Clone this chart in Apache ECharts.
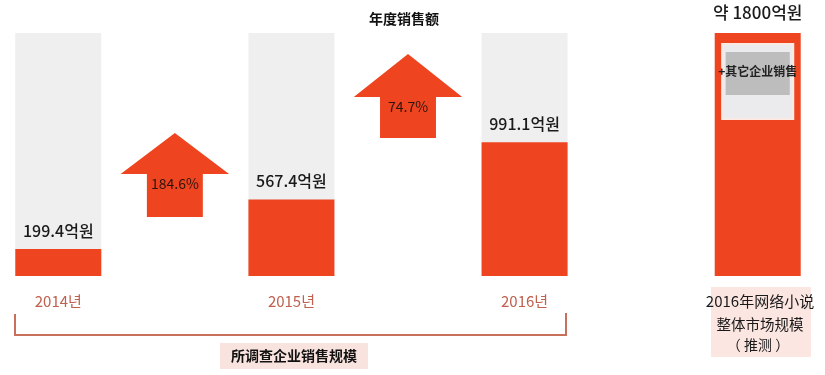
<!DOCTYPE html>
<html>
<head>
<meta charset="utf-8">
<script src="https://cdn.jsdelivr.net/npm/echarts@6/dist/echarts.min.js"></script>
<style>html,body{margin:0;padding:0;background:#fff;}#c{width:825px;height:375px;}</style>
</head>
<body>
<div id="c"></div>
<script>
// ---- data ----
const categories = ['2014년', '', '2015년', '', '2016년', '', ''];
const sales = [199.4, 567.4, 991.1];            // 억원, 2014-2016
const salesLabels = ['199.4억원', '567.4억원', '991.1억원'];
const growthRates = ['184.6%', '74.7%'];
const arrowLevels = [[437, 756, 1059], [1022, 1326, 1644]]; // bottom, head base, tip (axis units)
const marketTotal = 1800;
const marketLabel = '약 1800억원';
const otherLabel = '+其它企业销售';
const otherOuter = [1163, 1718];
const otherInner = [1341, 1659];
const chartTitle = '年度销售额';
const bracketLabel = '所调查企业销售规模';
const marketCaption = ['2016年网络小说', '整体市场规模', '（ 推测 ）'];
const axisMax = 1800;

const ORANGE = '#ee4520';
const GRAY = '#efefef';
const NARROW = '"Liberation Sans Narrow","Noto Sans CJK KR",sans-serif';
const CJK = '"Noto Sans CJK SC","Noto Sans CJK KR",sans-serif';

const barIdx = [0, 2, 4];
const marketIdx = 6;

const bgData = categories.map(() => '-');
const valData = categories.map(() => '-');
barIdx.forEach((ci, i) => {
  bgData[ci] = axisMax;
  valData[ci] = {
    value: sales[i],
    label: { formatter: salesLabels[i] }
  };
});
valData[marketIdx] = {
  value: marketTotal,
  label: { formatter: marketLabel, fontSize: 17, distance: 12 }
};

const arrowData = arrowLevels.map((a, i) => [2 * i + 1, a[0], a[1], a[2], growthRates[i]]);

const chart = echarts.init(document.getElementById('c'));
chart.setOption({
  animation: false,
  grid: { left: 0, right: 9, top: 33, bottom: 99, containLabel: false },
  xAxis: {
    type: 'category',
    data: categories,
    axisLine: { show: false },
    axisTick: { show: false },
    axisLabel: { color: '#c0604f', fontSize: 15, fontFamily: NARROW, margin: 18, interval: 0 }
  },
  yAxis: {
    type: 'value', min: 0, max: axisMax,
    show: false,
    splitLine: { show: false }
  },
  series: [
    {
      type: 'bar', data: bgData, barWidth: 86, barGap: '-100%',
      itemStyle: { color: GRAY }, silent: true
    },
    {
      type: 'bar', data: valData, barWidth: 86, barGap: '-100%',
      itemStyle: { color: ORANGE },
      label: {
        show: true, position: 'top', distance: 10,
        color: '#1a1a1a', fontSize: 16, fontWeight: 500, fontFamily: NARROW
      }
    },
    {
      type: 'custom',
      data: arrowData,
      encode: { x: 0, y: [1, 2, 3] },
      renderItem: function (params, api) {
        const c = api.value(0);
        const x = api.coord([c, 0])[0];
        const yB = api.coord([c, api.value(1)])[1];
        const yH = api.coord([c, api.value(2)])[1];
        const yT = api.coord([c, api.value(3)])[1];
        const band = api.size([1, 0])[0];
        const hw = band * 0.465, sw = band * 0.24;
        return {
          type: 'group',
          children: [
            {
              type: 'polygon',
              shape: { points: [[x, yT], [x + hw, yH], [x + sw, yH], [x + sw, yB], [x - sw, yB], [x - sw, yH], [x - hw, yH]] },
              style: { fill: ORANGE }
            },
            {
              type: 'text',
              x: x, y: yH + 10,
              style: { text: api.value(4), fill: '#2e140c', fontSize: 14, fontFamily: NARROW, align: 'center', verticalAlign: 'middle' }
            }
          ]
        };
      }
    },
    {
      type: 'custom',
      data: [[marketIdx, otherOuter[0], otherOuter[1], otherInner[0], otherInner[1], otherLabel]],
      encode: { x: 0, y: [1, 2, 3, 4] },
      z: 5,
      renderItem: function (params, api) {
        const c = api.value(0);
        const x = api.coord([c, 0])[0];
        const band = api.size([1, 0])[0];
        const o0 = api.coord([c, api.value(1)])[1], o1 = api.coord([c, api.value(2)])[1];
        const i0 = api.coord([c, api.value(3)])[1], i1 = api.coord([c, api.value(4)])[1];
        const ow = band * 0.61, iw = band * 0.55;
        return {
          type: 'group',
          children: [
            { type: 'rect', shape: { x: x - ow / 2, y: o1, width: ow, height: o0 - o1 }, style: { fill: '#ebebee', stroke: '#fbe9e4', lineWidth: 2 } },
            { type: 'rect', shape: { x: x - iw / 2, y: i1, width: iw, height: i0 - i1 }, style: { fill: '#bdbdbd' } },
            { type: 'text', x: x, y: (i0 + i1) / 2 - 2, style: { text: api.value(5), fill: '#222', fontSize: 12, fontWeight: 'bold', fontFamily: CJK, align: 'center', verticalAlign: 'middle' } }
          ]
        };
      }
    }
  ],
  graphic: [
    { type: 'text', left: 369, top: 12, style: { text: chartTitle, fill: '#111', fontSize: 14, fontWeight: 'bold', fontFamily: CJK } },
    { type: 'polyline', shape: { points: [[15, 314], [15, 335], [566, 335], [566, 313]] }, style: { stroke: '#c8705c', lineWidth: 2, fill: null } },
    { type: 'rect', shape: { x: 220, y: 343, width: 148, height: 26 }, style: { fill: '#f9e3de' } },
    { type: 'text', x: 294, y: 356, style: { text: bracketLabel, fill: '#111', fontSize: 14, fontWeight: 'bold', fontFamily: CJK, align: 'center', verticalAlign: 'middle' } },
    { type: 'rect', shape: { x: 711, y: 287, width: 100, height: 70 }, style: { fill: '#fbe6e1' } },
    { type: 'text', x: 760, y: 301, style: { text: marketCaption[0], fill: '#1a1a1a', fontSize: 15, fontFamily: CJK, align: 'center', verticalAlign: 'middle' } },
    { type: 'text', x: 760, y: 324, style: { text: marketCaption[1], fill: '#1a1a1a', fontSize: 14.5, fontFamily: CJK, align: 'center', verticalAlign: 'middle' } },
    { type: 'text', x: 758, y: 345, style: { text: marketCaption[2], fill: '#1a1a1a', fontSize: 14, fontFamily: CJK, align: 'center', verticalAlign: 'middle' } }
  ]
});
</script>
</body>
</html>
